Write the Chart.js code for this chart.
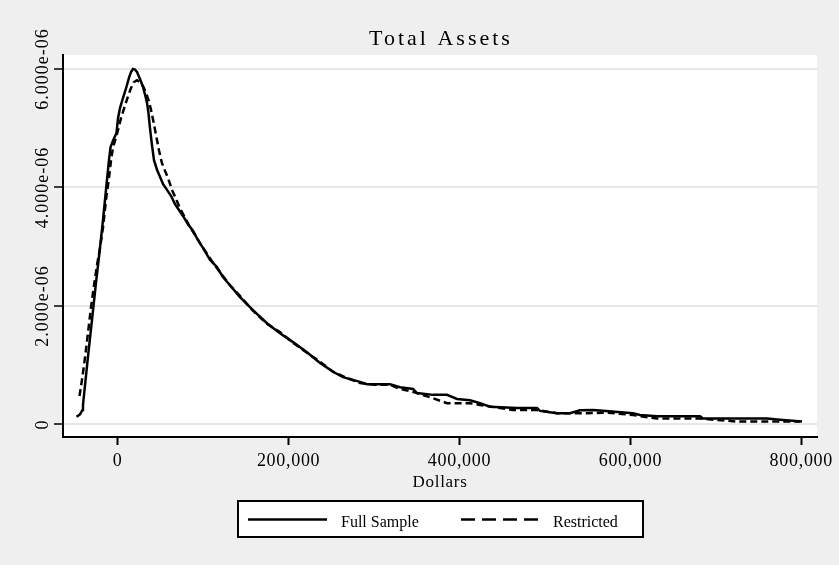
<!DOCTYPE html>
<html>
<head>
<meta charset="utf-8">
<script src="https://cdn.jsdelivr.net/npm/chart.js@4.4.1/dist/chart.umd.min.js"></script>
<style>
  html, body { margin: 0; padding: 0; background: #efefef; }
  #wrap { width: 839px; height: 565px; }
</style>
</head>
<body>
<div id="wrap"><canvas id="chart" width="839" height="565"></canvas></div>
<script>
// Kernel density of total assets (dollars) for the full sample and the restricted sample
const fullAssets = [-48200, -44100, -41200, -40600, -39400, -34800, -30100, -25400, -20700, -17200,
  -13700, -10200, -8400, -5500, -1400, 400, 2700, 6200, 10300, 13200,
  15600, 17900, 20200, 22600, 26100, 29600, 32500, 34300, 36000, 37800,
  40100, 42500, 46000, 49500, 53000, 57700, 62400, 67100, 71700, 76400,
  82300, 88100, 94000, 99800, 108000, 115900, 123200, 131400, 143100, 158300,
  174700, 189900, 205200, 221500, 236800, 252000, 263700, 283600, 291800, 318700,
  330400, 345600, 350300, 369000, 385400, 397100, 412300, 424000, 435700, 467300,
  490700, 494200, 514100, 529300, 541000, 556200, 567900, 603100, 611200, 631100,
  681500, 685000, 759900, 778600, 800800];
const fullDensity = [0.13e-6, 0.17e-6, 0.245e-6, 0.33e-6, 0.50e-6, 1.14e-6, 1.76e-6, 2.39e-6, 2.98e-6, 3.45e-6,
  3.96e-6, 4.46e-6, 4.68e-6, 4.79e-6, 4.92e-6, 5.17e-6, 5.34e-6, 5.51e-6, 5.70e-6, 5.85e-6,
  5.95e-6, 6.00e-6, 5.99e-6, 5.95e-6, 5.83e-6, 5.70e-6, 5.54e-6, 5.43e-6, 5.26e-6, 5.00e-6,
  4.72e-6, 4.46e-6, 4.30e-6, 4.18e-6, 4.06e-6, 3.96e-6, 3.86e-6, 3.72e-6, 3.62e-6, 3.52e-6,
  3.38e-6, 3.27e-6, 3.11e-6, 2.98e-6, 2.78e-6, 2.66e-6, 2.49e-6, 2.35e-6, 2.15e-6, 1.93e-6,
  1.71e-6, 1.54e-6, 1.39e-6, 1.22e-6, 1.04e-6, 0.89e-6, 0.80e-6, 0.72e-6, 0.68e-6, 0.68e-6,
  0.63e-6, 0.60e-6, 0.53e-6, 0.50e-6, 0.50e-6, 0.43e-6, 0.41e-6, 0.36e-6, 0.30e-6, 0.28e-6,
  0.28e-6, 0.23e-6, 0.19e-6, 0.19e-6, 0.24e-6, 0.245e-6, 0.23e-6, 0.19e-6, 0.16e-6, 0.14e-6,
  0.14e-6, 0.10e-6, 0.10e-6, 0.076e-6, 0.05e-6];

const restrictedAssets = [-44700, -41800, -38300, -34800, -31200, -27700, -24200, -20700, -17200, -13700,
  -10200, -7800, -5500, -2000, 400, 3900, 8500, 12100, 15600, 19100,
  22600, 26100, 29600, 33100, 36000, 39000, 41900, 44800, 48300, 51800,
  55400, 58900, 63500, 68200, 72900, 78800, 84600, 90500, 96300, 103300,
  111500, 119700, 131400, 143100, 158300, 174700, 189900, 205200, 221500, 236800,
  252000, 266000, 283600, 301100, 318700, 330400, 345600, 365500, 385400, 412300,
  424000, 462600, 490700, 514100, 549200, 572600, 603100, 631100, 681500, 724800,
  778600, 798500];
const restrictedDensity = [0.48e-6, 0.75e-6, 1.12e-6, 1.54e-6, 1.98e-6, 2.35e-6, 2.69e-6, 2.98e-6, 3.32e-6, 3.79e-6,
  4.16e-6, 4.46e-6, 4.68e-6, 4.84e-6, 4.97e-6, 5.17e-6, 5.38e-6, 5.54e-6, 5.68e-6, 5.78e-6,
  5.81e-6, 5.78e-6, 5.71e-6, 5.60e-6, 5.48e-6, 5.31e-6, 5.11e-6, 4.89e-6, 4.63e-6, 4.41e-6,
  4.28e-6, 4.16e-6, 3.96e-6, 3.81e-6, 3.65e-6, 3.49e-6, 3.33e-6, 3.20e-6, 3.06e-6, 2.91e-6,
  2.73e-6, 2.57e-6, 2.35e-6, 2.17e-6, 1.92e-6, 1.70e-6, 1.56e-6, 1.38e-6, 1.21e-6, 1.06e-6,
  0.89e-6, 0.80e-6, 0.70e-6, 0.67e-6, 0.67e-6, 0.60e-6, 0.55e-6, 0.46e-6, 0.36e-6, 0.36e-6,
  0.33e-6, 0.245e-6, 0.245e-6, 0.19e-6, 0.19e-6, 0.20e-6, 0.16e-6, 0.10e-6, 0.10e-6, 0.05e-6,
  0.05e-6, 0.05e-6];

const xTickValues = [0, 200000, 400000, 600000, 800000];
const xTickLabels = ['0', '200,000', '400,000', '600,000', '800,000'];
const yTickValues = [0, 2e-6, 4e-6, 6e-6];
const yTickLabels = ['0', '2.000e-06', '4.000e-06', '6.000e-06'];
const seriesNames = ['Full Sample', 'Restricted'];
const chartTitle = 'Total Assets';
const xAxisTitle = 'Dollars';

const SERIF = '"Liberation Serif", "Times New Roman", serif';

function toPoints(xs, ys) {
  return xs.map((x, i) => ({ x: x, y: ys[i] }));
}

// Grey page, white plotting region
const backdrop = {
  id: 'backdrop',
  beforeDraw(chart) {
    const { ctx, chartArea: a } = chart;
    ctx.save();
    ctx.fillStyle = '#efefef';
    ctx.fillRect(0, 0, chart.width, chart.height);
    ctx.fillStyle = '#ffffff';
    ctx.fillRect(a.left, a.top, a.right - a.left, a.bottom - a.top);
    ctx.restore();
    ctx.letterSpacing = '0.7px';
  }
};

// Title, rotated y tick labels and the boxed legend
const decorations = {
  id: 'decorations',
  afterDraw(chart) {
    const { ctx } = chart;
    const y = chart.scales.y;
    ctx.save();
    ctx.fillStyle = '#000';

    ctx.letterSpacing = '3px';
    ctx.font = '22px ' + SERIF;
    ctx.textAlign = 'center';
    ctx.textBaseline = 'alphabetic';
    ctx.fillText(chartTitle, 441, 45);

    ctx.letterSpacing = '1px';
    ctx.font = '18px ' + SERIF;
    yTickValues.forEach((v, i) => {
      const py = y.getPixelForValue(v);
      ctx.save();
      ctx.translate(48, py);
      ctx.rotate(-Math.PI / 2);
      ctx.textAlign = 'center';
      ctx.fillText(yTickLabels[i], 0, 0);
      ctx.restore();
    });

    // legend frame
    ctx.letterSpacing = '0px';
    ctx.fillStyle = '#fff';
    ctx.fillRect(238, 501, 405, 36);
    ctx.strokeStyle = '#000';
    ctx.lineWidth = 2;
    ctx.strokeRect(238, 501, 405, 36);

    ctx.lineWidth = 2.5;
    ctx.beginPath();
    ctx.moveTo(248, 519.5);
    ctx.lineTo(327, 519.5);
    ctx.stroke();
    ctx.setLineDash([14, 7]);
    ctx.beginPath();
    ctx.moveTo(461, 519.5);
    ctx.lineTo(540, 519.5);
    ctx.stroke();
    ctx.setLineDash([]);

    ctx.fillStyle = '#000';
    ctx.font = '16px ' + SERIF;
    ctx.textAlign = 'left';
    ctx.fillText(seriesNames[0], 341, 527);
    ctx.fillText(seriesNames[1], 553, 527);
    ctx.restore();
  }
};

new Chart(document.getElementById('chart'), {
  type: 'scatter',
  data: {
    datasets: [
      {
        label: seriesNames[0],
        data: toPoints(fullAssets, fullDensity),
        showLine: true,
        borderColor: '#000',
        borderWidth: 2.5,
        pointRadius: 0,
        tension: 0,
        order: 1
      },
      {
        label: seriesNames[1],
        data: toPoints(restrictedAssets, restrictedDensity),
        showLine: true,
        borderColor: '#000',
        borderWidth: 2.5,
        borderDash: [7, 4],
        pointRadius: 0,
        tension: 0,
        order: 2
      }
    ]
  },
  options: {
    responsive: false,
    animation: false,
    layout: { padding: { top: 55, right: 22, bottom: 0, left: 0 } },
    plugins: {
      legend: { display: false },
      title: { display: false },
      tooltip: { enabled: false }
    },
    scales: {
      x: {
        type: 'linear',
        position: 'bottom',
        min: -64000,
        max: 818400,
        afterBuildTicks(scale) { scale.ticks = xTickValues.map(v => ({ value: v })); },
        afterFit(scale) { scale.height = 128; },
        ticks: {
          autoSkip: false,
          maxRotation: 0,
          padding: 5,
          color: '#000',
          font: { family: SERIF, size: 18 },
          callback: (v, i) => xTickLabels[i]
        },
        grid: {
          drawOnChartArea: false,
          drawTicks: true,
          tickLength: 8,
          tickColor: '#000',
          tickWidth: 2
        },
        border: { display: true, color: '#000', width: 2 },
        title: {
          display: true,
          text: xAxisTitle,
          color: '#000',
          font: { family: SERIF, size: 17 },
          padding: { top: 0, bottom: 72 }
        }
      },
      y: {
        type: 'linear',
        min: -0.211e-6,
        max: 6.236e-6,
        afterBuildTicks(scale) { scale.ticks = yTickValues.map(v => ({ value: v })); },
        afterFit(scale) { scale.width = 63; },
        ticks: { display: false },
        grid: {
          color: '#e6e6e6',
          lineWidth: 2,
          drawTicks: true,
          tickLength: 9,
          tickColor: '#000',
          tickWidth: 1.5
        },
        border: { display: true, color: '#000', width: 2 }
      }
    }
  },
  plugins: [backdrop, decorations]
});
</script>
</body>
</html>
